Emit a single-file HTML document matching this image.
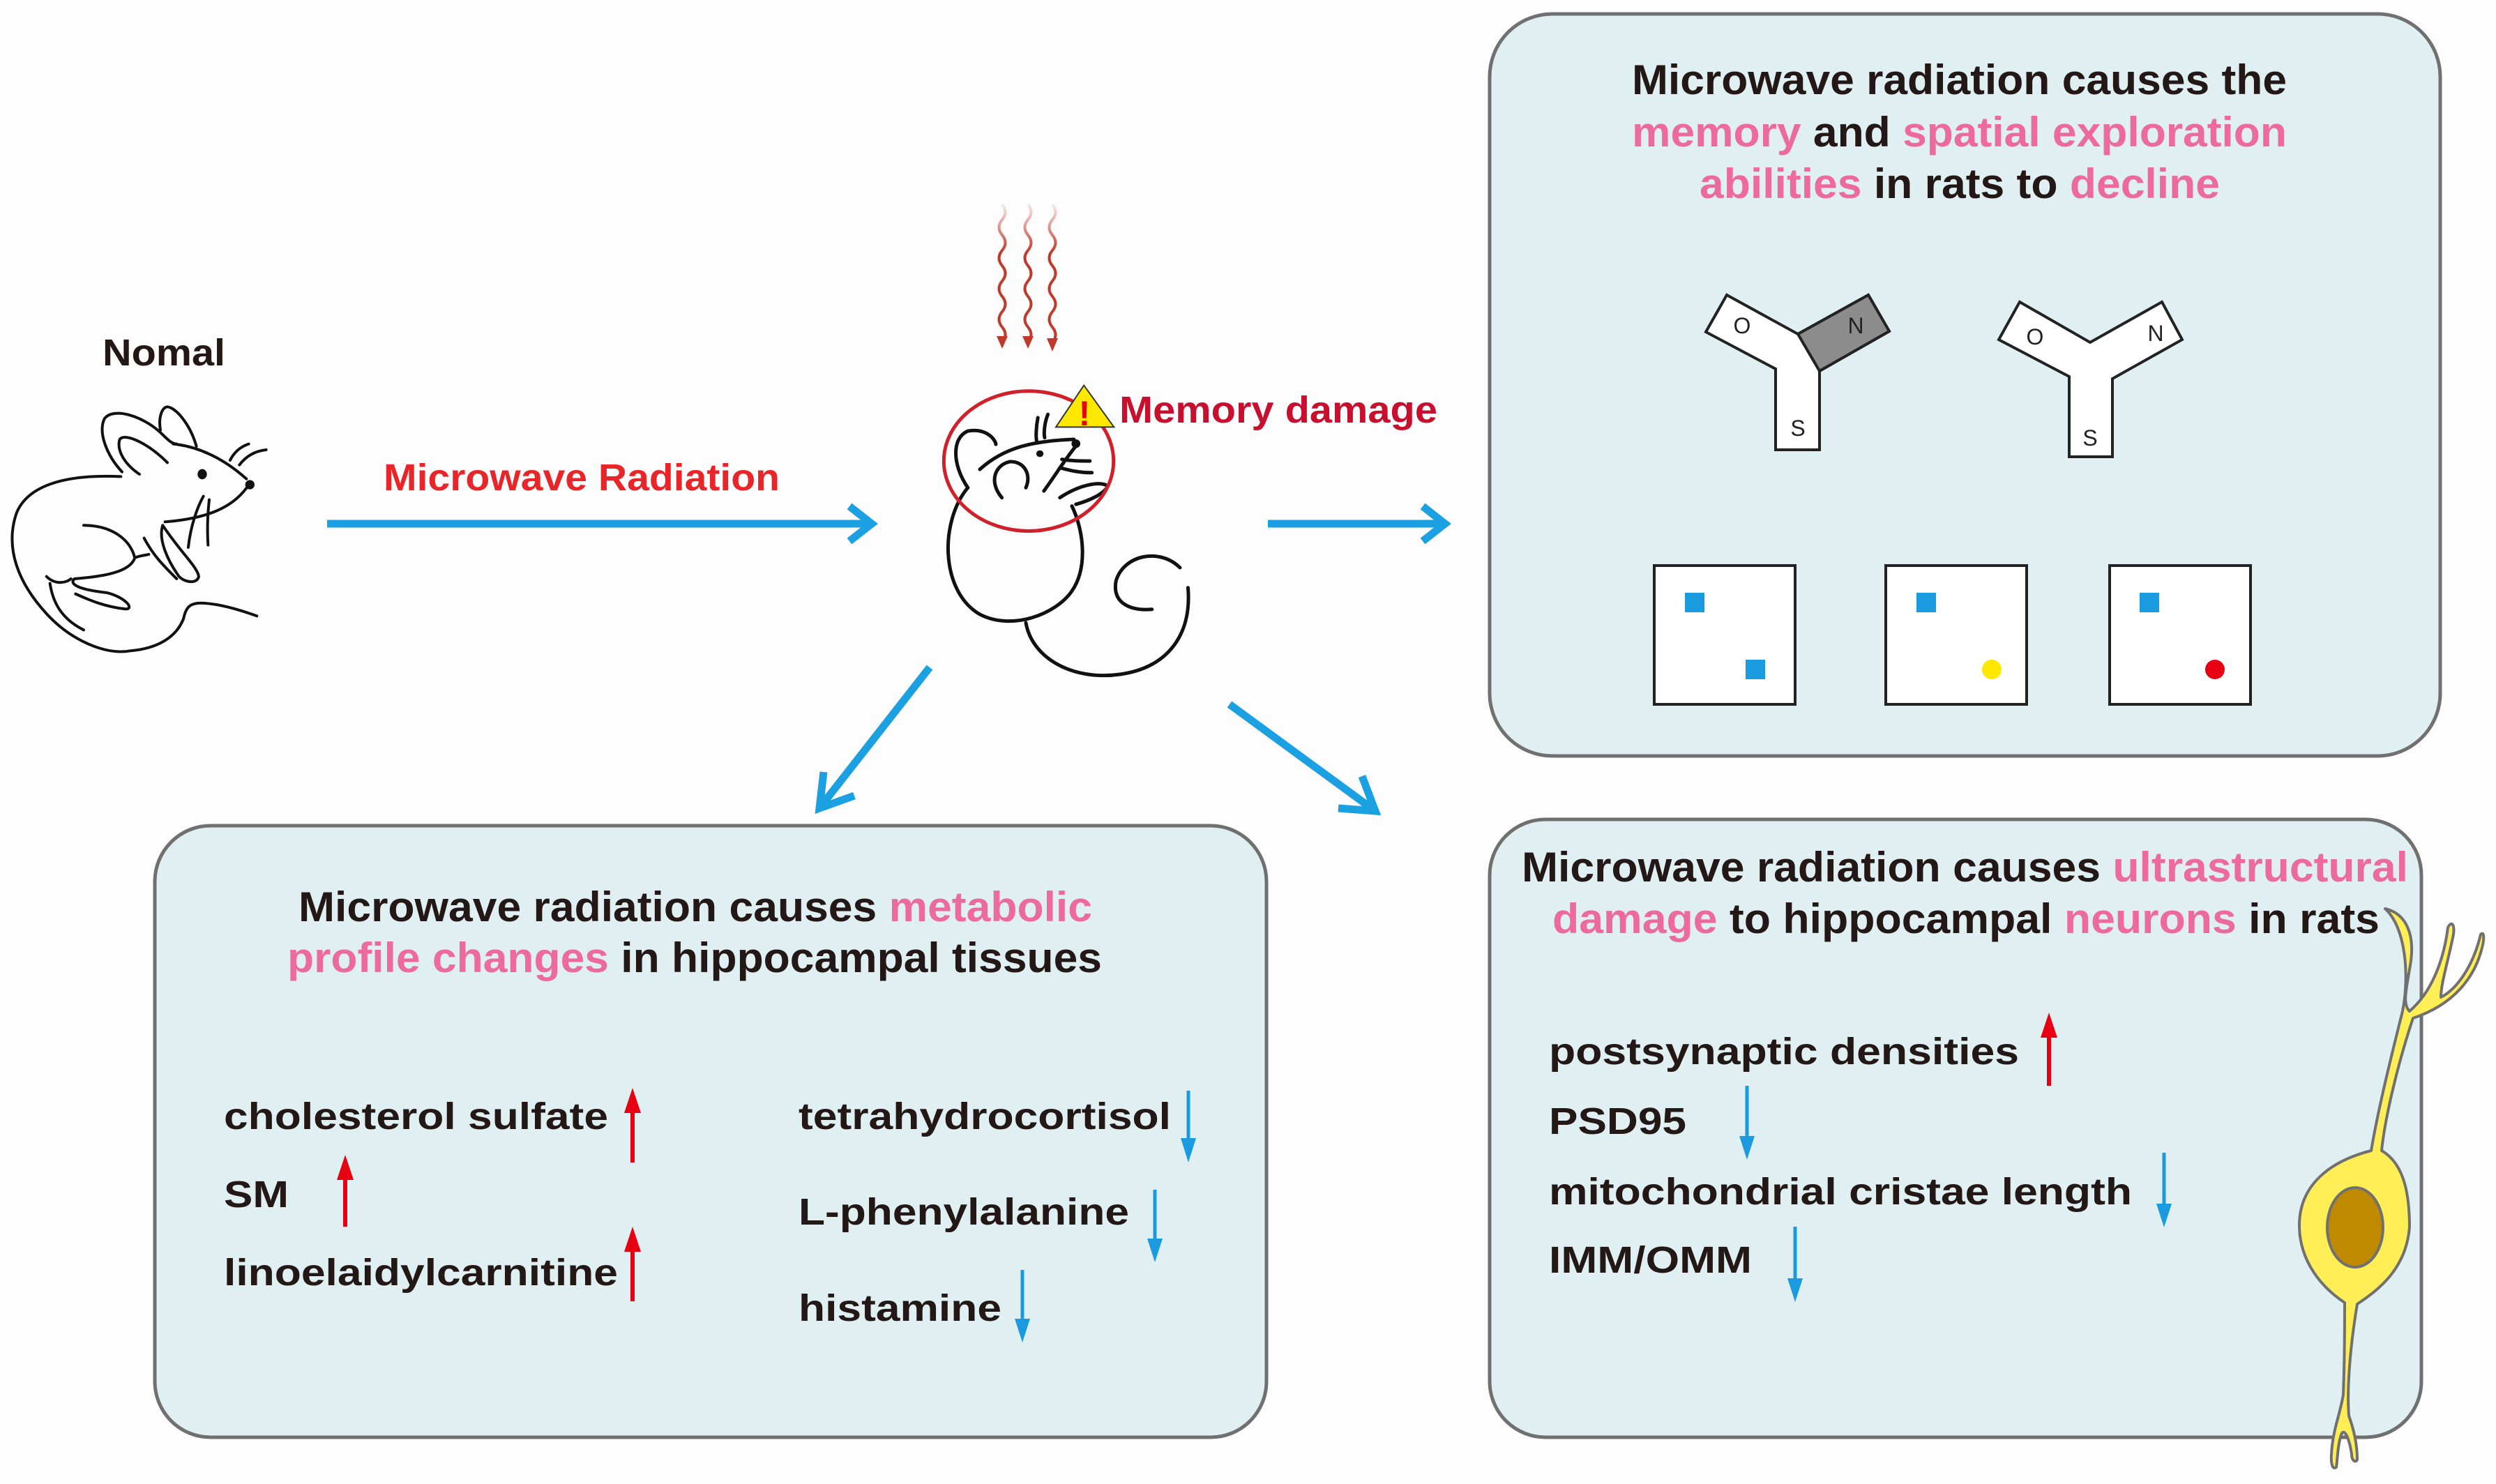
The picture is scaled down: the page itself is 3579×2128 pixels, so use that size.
<!DOCTYPE html>
<html><head><meta charset="utf-8"><style>
html,body{margin:0;padding:0;background:#fdfdfd;}
svg{display:block;}
text{font-family:"Liberation Sans",Arial,sans-serif;font-weight:bold;}
.t{fill:#231815;}
.p{fill:#ec6b9c;}
.m{fill:none;stroke:#111;stroke-width:5;stroke-linecap:round;stroke-linejoin:round;}
</style></head><body>
<svg width="3579" height="2128" viewBox="0 0 3579 2128" xmlns="http://www.w3.org/2000/svg">
<rect width="3579" height="2128" fill="#fdfdfd"/>
<defs>
<linearGradient id="wg" x1="0" y1="0" x2="0" y2="1"><stop offset="0" stop-color="#c0392b" stop-opacity="0.1"/><stop offset="0.35" stop-color="#c0392b"/><stop offset="1" stop-color="#c0392b"/></linearGradient>
</defs>

<!-- Boxes -->
<rect x="2136" y="20" width="1363" height="1064" rx="90" fill="#dfeff2" stroke="#707070" stroke-width="5"/>
<rect x="222" y="1184" width="1594" height="877" rx="80" fill="#dfeff2" stroke="#707070" stroke-width="5"/>
<rect x="2136" y="1175" width="1336" height="886" rx="80" fill="#dfeff2" stroke="#707070" stroke-width="5"/>

<!-- Left mouse -->
<g transform="translate(0,520) scale(0.3333)">
<g class="m" style="stroke-width:12">
<path d="M520,490 C300,480 120,520 70,650 C20,800 80,950 200,1080 C300,1190 450,1260 560,1240 C680,1230 760,1180 790,1100 C800,1050 820,1030 880,1035 C960,1040 1050,1070 1105,1090"/>
<path d="M525,470 C460,400 420,300 450,240 C490,190 620,230 700,310 C720,330 740,350 760,350"/>
<path d="M600,480 C540,440 500,380 515,330 C540,300 640,350 720,430"/>
<path d="M690,290 C680,230 700,190 720,190 C760,195 820,270 845,360"/>
<path d="M745,350 C850,360 960,410 1060,500"/>
<path d="M1060,540 C1000,620 900,670 710,685"/>
<path d="M990,420 C1010,380 1040,360 1070,350"/>
<path d="M1030,440 C1060,400 1100,380 1145,375"/>
<path d="M810,795 C820,700 850,620 875,575"/>
<path d="M895,785 C890,700 895,640 900,590"/>
<path d="M700,700 C680,760 720,850 770,920 C800,950 850,950 855,920 C850,880 780,820 700,700"/>
<path d="M620,755 C660,830 700,870 760,930"/>
<path d="M360,700 C480,700 560,760 580,840 C600,830 620,830 640,825"/>
<path d="M580,840 C560,900 450,920 320,930 C290,960 370,980 460,990 C540,1010 580,1060 540,1060 C440,1050 360,1010 325,995"/>
<path d="M200,920 C240,960 290,945 305,930"/>
<path d="M215,950 C230,1050 280,1110 360,1150"/>
</g>
<circle cx="1075" cy="525" r="20" fill="#111"/>
<ellipse cx="870" cy="480" rx="20" ry="22" fill="#111"/>
</g>

<text x="147" y="524" font-size="54" class="t" textLength="176" lengthAdjust="spacingAndGlyphs">Nomal</text>
<text x="550" y="703" font-size="54" fill="#e8262a" textLength="568" lengthAdjust="spacingAndGlyphs">Microwave Radiation</text>

<!-- main arrows -->
<g stroke="#1ba0e2" stroke-width="11" fill="none" stroke-linecap="butt">
<line x1="469" y1="751" x2="1245" y2="751"/>
<polyline points="1218,726 1250,751 1218,776" stroke-linejoin="miter"/>
<line x1="1818" y1="751" x2="2068" y2="751"/>
<polyline points="2040,726 2072,751 2040,776"/>
<line x1="1333" y1="957" x2="1178" y2="1155"/>
<polyline points="1225,1141 1175,1159 1181,1107"/>
<line x1="1763" y1="1010" x2="1968" y2="1160"/>
<polyline points="1919,1159 1972,1163 1953,1113"/>
</g>

<!-- waves -->
<g fill="none" stroke="url(#wg)" stroke-width="4">
<path d="M1437,293 q9,11 0,22 t0,22 t0,22 t0,22 t0,22 t0,22 t0,22 t0,22 t0,22"/>
<path d="M1474,293 q9,11 0,22 t0,22 t0,22 t0,22 t0,22 t0,22 t0,22 t0,22 t0,22"/>
<path d="M1509,293 q9,11 0,22 t0,22 t0,22 t0,22 t0,22 t0,22 t0,22 t0,22 t0,22"/>
</g>
<g fill="#c0392b">
<polygon points="1429,482 1445,482 1437,500"/>
<polygon points="1466,482 1482,482 1474,500"/>
<polygon points="1501,485 1517,485 1509,504"/>
</g>

<!-- center mouse -->
<g transform="translate(1250,250) scale(0.574,0.478)">
<g class="m" style="stroke-width:5;vector-effect:non-scaling-stroke" fill="none">
<path vector-effect="non-scaling-stroke" d="M240,940 C200,870 200,790 240,770 C290,760 310,800 310,810"/>
<path vector-effect="non-scaling-stroke" d="M270,885 C330,820 400,800 505,795"/>
<path vector-effect="non-scaling-stroke" d="M510,815 C480,860 460,900 430,950"/>
<path vector-effect="non-scaling-stroke" d="M325,970 C290,920 310,870 345,862 C380,860 400,900 385,940"/>
<path vector-effect="non-scaling-stroke" d="M475,855 C500,860 520,860 545,860"/>
<path vector-effect="non-scaling-stroke" d="M470,880 C500,890 520,895 550,895"/>
<path vector-effect="non-scaling-stroke" d="M415,730 C410,760 410,790 412,800"/>
<path vector-effect="non-scaling-stroke" d="M440,720 C430,750 430,780 432,790"/>
<path vector-effect="non-scaling-stroke" d="M470,970 C520,930 570,920 590,935 C580,960 540,980 510,990"/>
<path vector-effect="non-scaling-stroke" d="M240,940 C170,1040 170,1250 270,1320 C350,1370 460,1320 500,1250 C540,1180 530,1070 500,995"/>
<path vector-effect="non-scaling-stroke" d="M385,1345 C400,1450 500,1520 620,1500 C740,1480 800,1380 790,1240"/>
<path vector-effect="non-scaling-stroke" d="M770,1180 C720,1120 630,1140 610,1220 C600,1290 650,1310 700,1305"/>
</g>
<ellipse cx="510" cy="808" rx="11" ry="13" fill="#111"/>
<ellipse cx="420" cy="838" rx="9" ry="10" fill="#111"/>
<ellipse cx="392" cy="860" rx="212" ry="210" fill="none" stroke="#d0202a" stroke-width="5" vector-effect="non-scaling-stroke"/>
<polygon points="530,633 460,758 605,758" fill="#ffe800" stroke="#333" stroke-width="2" vector-effect="non-scaling-stroke"/>
</g>
<text x="1555" y="610" font-size="50" fill="#e60012" text-anchor="middle">!</text>
<text x="1605" y="606" font-size="54" fill="#c8102e" textLength="456" lengthAdjust="spacingAndGlyphs">Memory damage</text>

<!-- top-right box text -->
<text x="2340" y="135" font-size="60" class="t" textLength="939" lengthAdjust="spacingAndGlyphs">Microwave radiation causes the</text>
<text x="2340" y="210" font-size="60" textLength="939" lengthAdjust="spacingAndGlyphs"><tspan class="p">memory</tspan><tspan class="t"> and </tspan><tspan class="p">spatial exploration</tspan></text>
<text x="2437" y="284" font-size="60" textLength="746" lengthAdjust="spacingAndGlyphs"><tspan class="p">abilities</tspan><tspan class="t"> in rats to </tspan><tspan class="p">decline</tspan></text>

<!-- Y mazes -->
<g stroke="#222" stroke-width="4" stroke-linejoin="miter">
<polygon points="2476,423 2446,476 2546,529 2546,645 2609,645 2609,532 2709,475 2679,423 2578,479" fill="#fff"/>
<polygon points="2578,479 2679,423 2709,475 2609,532" fill="#8c8c8c"/>
<polygon points="2896,433 2866,487 2967,540 2967,655 3029,655 3029,543 3129,487 3100,433 2997,491" fill="#fff"/>
</g>
<g font-size="32" fill="#222" style="font-weight:normal" text-anchor="middle">
<text x="2498" y="478" style="font-weight:normal">O</text>
<text x="2661" y="478" style="font-weight:normal">N</text>
<text x="2578" y="625" style="font-weight:normal">S</text>
<text x="2918" y="494" style="font-weight:normal">O</text>
<text x="3091" y="489" style="font-weight:normal">N</text>
<text x="2997" y="639" style="font-weight:normal">S</text>
</g>

<!-- open field squares -->
<g fill="#fff" stroke="#222" stroke-width="4">
<rect x="2372" y="811" width="202" height="199"/>
<rect x="2704" y="811" width="202" height="199"/>
<rect x="3025" y="811" width="202" height="199"/>
</g>
<g fill="#1a9be0">
<rect x="2416" y="850" width="28" height="28"/>
<rect x="2503" y="946" width="28" height="28"/>
<rect x="2748" y="850" width="28" height="28"/>
<rect x="3068" y="850" width="28" height="28"/>
</g>
<circle cx="2856" cy="960" r="14" fill="#ffe800"/>
<circle cx="3176" cy="960" r="14" fill="#e60012"/>

<!-- bottom-left text -->
<text x="428" y="1321" font-size="60" textLength="1138" lengthAdjust="spacingAndGlyphs"><tspan class="t">Microwave radiation causes </tspan><tspan class="p">metabolic</tspan></text>
<text x="412" y="1394" font-size="60" textLength="1168" lengthAdjust="spacingAndGlyphs"><tspan class="p">profile changes</tspan><tspan class="t"> in hippocampal tissues</tspan></text>
<g font-size="54" class="t">
<text x="321" y="1619" textLength="551" lengthAdjust="spacingAndGlyphs">cholesterol sulfate</text>
<text x="321" y="1731" textLength="93" lengthAdjust="spacingAndGlyphs">SM</text>
<text x="321" y="1843" textLength="565" lengthAdjust="spacingAndGlyphs">linoelaidylcarnitine</text>
<text x="1145" y="1619" textLength="534" lengthAdjust="spacingAndGlyphs">tetrahydrocortisol</text>
<text x="1145" y="1756" textLength="474" lengthAdjust="spacingAndGlyphs">L-phenylalanine</text>
<text x="1145" y="1894" textLength="291" lengthAdjust="spacingAndGlyphs">histamine</text>
</g>

<!-- bottom-right text -->
<text x="2182" y="1264" font-size="60" textLength="1271" lengthAdjust="spacingAndGlyphs"><tspan class="t">Microwave radiation causes </tspan><tspan class="p">ultrastructural</tspan></text>
<text x="2226" y="1338" font-size="60" textLength="1186" lengthAdjust="spacingAndGlyphs"><tspan class="p">damage</tspan><tspan class="t"> to hippocampal </tspan><tspan class="p">neurons</tspan><tspan class="t"> in rats</tspan></text>
<g font-size="54" class="t">
<text x="2221" y="1526" textLength="674" lengthAdjust="spacingAndGlyphs">postsynaptic densities</text>
<text x="2221" y="1626" textLength="197" lengthAdjust="spacingAndGlyphs">PSD95</text>
<text x="2221" y="1727" textLength="836" lengthAdjust="spacingAndGlyphs">mitochondrial cristae length</text>
<text x="2221" y="1825" textLength="291" lengthAdjust="spacingAndGlyphs">IMM/OMM</text>
</g>

<!-- up (red) arrows -->
<g stroke="#e60012" stroke-width="6"><line x1="907" y1="1590" x2="907" y2="1667"/><line x1="495" y1="1686" x2="495" y2="1759"/><line x1="907" y1="1789" x2="907" y2="1866"/><line x1="2938" y1="1482" x2="2938" y2="1557"/></g>
<g fill="#e60012">
<polygon points="907,1560 895,1596 919,1596"/><polygon points="495,1656 483,1692 507,1692"/><polygon points="907,1759 895,1795 919,1795"/><polygon points="2938,1452 2926,1488 2950,1488"/>
</g>
<!-- down (blue) arrows -->
<g stroke="#1a9be0" stroke-width="5"><line x1="1704" y1="1564" x2="1704" y2="1640"/><line x1="1656" y1="1706" x2="1656" y2="1784"/><line x1="1466" y1="1821" x2="1466" y2="1899"/><line x1="2505" y1="1557" x2="2505" y2="1637"/><line x1="3103" y1="1653" x2="3103" y2="1734"/><line x1="2574" y1="1759" x2="2574" y2="1841"/></g>
<g fill="#1a9be0">
<polygon points="1693,1632 1715,1632 1704,1667"/><polygon points="1645,1776 1667,1776 1656,1810"/><polygon points="1455,1891 1477,1891 1466,1925"/><polygon points="2494,1629 2516,1629 2505,1663"/><polygon points="3092,1726 3114,1726 3103,1760"/><polygon points="2563,1833 2585,1833 2574,1867"/>
</g>

<!-- neuron -->
<g stroke="#707070" stroke-width="4" fill="#ffee55" stroke-linejoin="round">
<path d="M3420,1303 C3450,1310 3465,1340 3455,1390 C3450,1420 3445,1440 3455,1450 C3490,1420 3505,1370 3510,1330 C3515,1320 3520,1325 3518,1340 C3510,1380 3500,1410 3500,1430 C3520,1420 3545,1390 3557,1340 C3562,1335 3562,1345 3560,1355 C3550,1400 3520,1440 3460,1460 C3440,1520 3420,1600 3415,1650 C3450,1670 3455,1720 3455,1760 C3450,1820 3410,1850 3380,1870 C3370,1930 3365,1990 3368,2030 C3375,2050 3380,2070 3380,2093 C3378,2098 3372,2095 3372,2085 C3368,2060 3362,2050 3358,2055 C3352,2070 3352,2090 3350,2104 C3345,2108 3342,2100 3343,2085 C3345,2050 3355,2030 3360,2000 C3362,1950 3362,1900 3362,1868 C3320,1840 3297,1800 3297,1757 C3297,1700 3340,1665 3400,1650 C3410,1590 3430,1510 3445,1450 C3455,1400 3450,1330 3420,1303 Z"/>
<ellipse cx="3377" cy="1760" rx="40" ry="57" fill="#bf8a00"/>
</g>
</svg>
</body></html>
